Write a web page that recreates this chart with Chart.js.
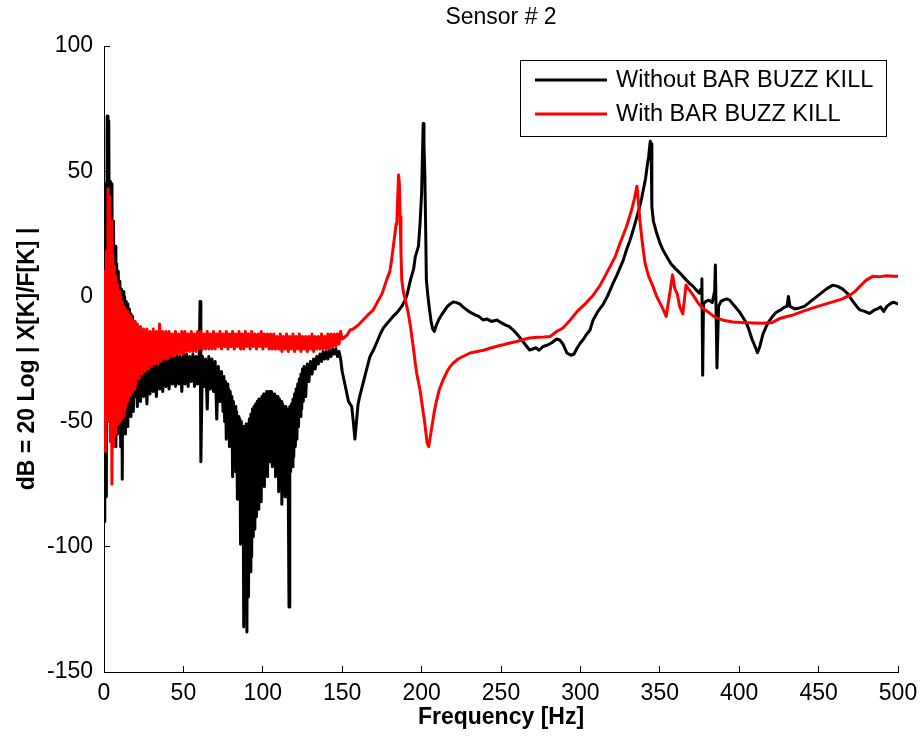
<!DOCTYPE html>
<html>
<head>
<meta charset="utf-8">
<script src="https://cdn.jsdelivr.net/npm/chart.js@4/dist/chart.umd.min.js"></script>
<style>html,body{margin:0;padding:0;background:#fff}canvas{display:block}</style>
</head>
<body>
<canvas id="c" width="920" height="738"></canvas>
<script>
const chartTitle = 'Sensor # 2';
const xAxisTitle = 'Frequency [Hz]';
const yAxisTitle = 'dB = 20 Log | X[K]/F[K] |';
const seriesLabels = ['Without BAR BUZZ KILL', 'With BAR BUZZ KILL'];
const xTicks = [0, 50, 100, 150, 200, 250, 300, 350, 400, 450, 500];
const yTicks = [-150, -100, -50, 0, 50, 100];

const blackHz = [
  0,0.5,1,1.5,2,2.5,3,3.5,4,4.5,5,5.5,6,6.5,7,7.5,8,8.5,9,9.5,
  10,10.5,11,11.5,12,12.5,13,13.5,14,14.5,15,15.5,16,16.5,17,17.5,18,18.5,19,19.5,
  20,21,22,23,24,25,26,27,28,29,30,31,32,33,34,35,36,37,38,39,
  40,41,42,43,44,45,46,47,48,49,50,51,52,53,54,55,56,57,58,59,
  60,60.5,61,
  62,63,64,65,66,67,68,69,70,71,72,73,74,75,
  75.5,76,76.5,77,77.5,78,78.5,79,79.5,80,80.5,81,81.5,82,82.5,83,83.5,84,84.5,85,
  85.5,86,86.5,87,87.5,88,88.5,89,89.5,90,90.5,91,91.5,92,92.5,93,93.5,94,94.5,95,
  95.5,96,96.5,97,97.5,98,98.5,99,99.5,100,100.5,101,101.5,102,102.5,103,103.5,104,104.5,105,
  105.5,106,106.5,107,107.5,108,108.5,109,109.5,110,110.5,111,111.5,112,112.5,113,113.5,114,114.5,115,
  115.5,116,116.5,117,117.5,118,118.5,119,119.5,120,120.5,121,121.5,122,122.5,123,123.5,124,124.5,125,
  125.5,126,
  127,128,129,130,131,132,133,134,135,136,137,138,139,140,141,142,143,144,145,146,
  147,148,149,150,
  152,154,156,157,158,159,160,161,163,165,167.5,170,172,174,176,178,180,182,184.5,187.5,
  190,191,193,195,196,198,199,200,200.5,201,201.5,202,202.5,203,204,205,206,207,208,209,
  211,213,216,218,220,222,224,226,228.5,231,234,236,238.7,241,244,247.5,250,253,255,257.6,
  260,262,265,268,270,272,274,276.5,279,282,285,287,289,291.5,294,296,298,300,302,304,
  306,308,311,314,317,320.6,323,325,327,329,331,333,335.6,337,338.5,339.6,341,342,343,344,
  344.5,345,346,348,350,352,354.5,357,360,362.7,366,369,371,373,375,376,376.5,377,377.5,379,
  381,383,384.5,385,386,387,388.5,390,392,394,396,398,400,402,404,406,408,410,411.5,413,
  415,418,421,423,426,428,430,431,432,435,438,441,444,447,449,452,455,459,462,465,
  468,471,474,476,479,482,485,487,489,491,493,495,497,500
];
const blackDb = [
  -20,-90,45,-80,72,-30,70,-10,46,-40,45,-55,30,-50,20,-60,13,-55,10,-45,
  6,-60,3,-73,2,-50,0,-55,-2,-52,-3,-45,-5,-48,-7,-42,-8,-46,-10,-40,
  -28,-44,-25,-42,-26,-40,-25,-43,-26,-39,-25,-38,-26,-40,-24,-37,-25,-38,-24,-36,
  -25,-37,-24,-35,-24,-36,-23,-35,-24,-38,-23,-35,-23,-36,-24,-34,-23,-36,-24,-35,
  -22,-2,-66,
  -24,-36,-25,-45,-24,-37,-25,-38,-26,-49,-28,-42,-30,-46,
  -32,-50,-34,-57,-35,-52,-37,-60,-38,-58,-40,-72,-42,-62,-44,-70,-46,-81,-48,-78,
  -49,-99,-50,-95,-52,-132,-52,-110,-51,-134,-51,-120,-49,-110,-47,-104,-45,-96,-44,-93,
  -43,-88,-42,-85,-41,-80,-41,-82,-40,-75,-39,-76,-39,-70,-38,-72,-38,-66,-38,-65,
  -38,-68,-39,-64,-39,-72,-40,-70,-40,-78,-41,-74,-42,-83,-43,-78,-44,-80,-44,-77,
  -45,-72,-124,-44,-70,-43,-68,-41,-64,-39,-60,-37,-57,-35,-52,-33,-48,-31,-45,-29,
  -42,-28,
  -40,-27,-34,-26,-31,-25,-29,-24,-27,-23,-26,-22,-25,-22,-25,-21,-24,-21,-23,-21,
  -24,-22,-25,-30,
  -36,-42,-44,-50,-57,-50,-43,-40,-35,-30,-24,-21,-18,-15,-12.5,-11,-9.5,-8,-6.5,-4,
  -1,1,6.6,11,15.8,20,29,41,55,69,60,50,30,6.6,0,-5.4,-10,-13,-14,-12,
  -9,-7,-4.2,-3,-2.2,-2.5,-3,-4.2,-5.4,-6.5,-7.5,-8,-9.4,-9,-10,-9.4,-10.5,-11.5,-12,-13.4,
  -15,-16.5,-19,-21.4,-21,-20.5,-21.5,-20,-19.5,-18.5,-17,-17.4,-19,-22.6,-23.5,-23,-20.5,-18.6,-17,-15,
  -13.5,-9.4,-6,-3.5,0,5.3,8.5,11.5,14.5,18.5,22,26,31.8,35,39,42.5,47,51.8,56,62,
  61,35.7,30,25.3,21.5,18.5,15.7,13,11,9.3,7,5,4,2.5,1.3,3,7,-31.5,-3,-2,
  -1.5,-2.5,2,12.5,-28.6,-4,-2,-1.5,-1,-1.5,-3,-4.5,-6,-8,-10,-13,-17,-20,-22.5,-20,
  -15,-10.7,-8,-6.5,-5.4,-4.5,-4,0,-4,-5,-4.6,-4,-2.5,-1,0,1.5,3,4.5,4,3,
  1.3,-1.5,-4,-5.4,-6,-6.8,-5.5,-5,-4.2,-6,-4,-3,-2.3,-3
];

const redHz = [
  0,0.5,1,1.5,2,2.5,3,3.5,4,4.5,5,5.5,6,6.5,7,7.5,8,8.5,9,9.5,
  10,10.5,11,11.5,12,12.5,13,13.5,14,14.5,15,15.5,16,16.5,17,17.5,18,18.5,19,19.5,
  20,21,22,23,24,25,26,27,28,29,30,31,32,33,34,35,36,37,38,39,
  40,41,42,43,44,45,46,47,48,49,50,51,52,53,54,55,56,57,58,59,
  60,61,62,63,64,65,66,67,68,69,70,71,72,73,74,75,76,77,78,79,
  80,81,82,83,84,85,86,87,88,89,90,91,92,93,94,95,96,97,98,99,
  100,101,102,103,104,105,106,107,108,109,110,111,112,113,114,115,116,117,118,119,
  120,121,122,123,124,125,126,127,128,129,130,131,132,133,134,135,136,137,138,139,
  140,141,142,143,144,145,146,147,148,149,150,
  153,155,157,160,163,166,169.5,172,175,178,180,181,182,183,184,184.5,185,185.5,186,186.5,
  187,187.5,188.5,190,191.6,193,195,196,197,199,200.5,202,203.5,204.5,205.5,206.5,208,209.5,211,213.5,
  216,218,220,223,226,230.5,235,239,243,248,252,255.6,260,264,268,273,277,281,285,289,
  293.5,298,303,308,312,315,318.6,322,325,329,332,334,335.6,336.5,337.5,338.8,340.7,343,345.7,348,
  350,352,354,356,358,359.5,361,362.5,364.5,366.5,368,371,374,377,380,383,386,390,396,402,
  409,415,421,426,430,434,440,446,452,459,465,470,473,476,480,484,488,492,497,500
];
const redDb = [
  -40,10,-62,18,-50,43,-45,40,-58,30,-75,17,-60,12,-55,8,-52,5,-51,2,
  -50,0,-49,-2,-48,-4,-46,-5,-44,-6,-42,-7,-40,-8,-39,-9,-38,-10,-37,-10,
  -35,-11,-33,-12,-31,-13,-30,-13,-29,-14,-28,-13,-27,-14,-27,-11,-26,-14,-25,-14,
  -25,-14,-24,-15,-24,-14,-23,-15,-23,-14,-23,-14,-22,-15,-22,-14,-22,-15,-22,-14,
  -21,-14,-21,-15,-21,-14,-21,-15,-21,-14,-21,-15,-20,-14,-21,-15,-20,-14,-21,-15,
  -20,-14,-21,-15,-20,-14,-21,-15,-21,-14,-20,-15,-21,-14,-20,-15,-21,-15,-20,-14,
  -21,-15,-20,-15,-21,-15,-21,-15,-21,-16,-21,-15,-22,-16,-21,-15,-22,-16,-21,-15,
  -22,-16,-21,-15,-22,-16,-21,-16,-22,-16,-21,-15,-22,-16,-21,-16,-21,-15,-21,-16,
  -21,-15,-21,-15,-20,-15,-20,-15,-19,-14,-17,
  -15.5,-13.4,-13,-11.5,-9.5,-7.5,-5.5,-2.5,1,6.6,10,14,19,24,29,31,40,48.5,45,31.8,
  18,6.6,2,-2,-6.7,-12,-21.4,-26.6,-31,-37.4,-44,-50.6,-58.6,-60,-56,-52,-46,-41.4,-37.5,-33.4,
  -30,-28,-26.6,-25,-24,-22.6,-22,-21.5,-20.7,-19.8,-19.2,-18.6,-18,-17.2,-16.6,-16.3,-16.2,-16,-14,-12.6,
  -9.5,-6,-3,0.5,4,7.5,11.8,16,21.3,27.8,34,39,44,38,30,22.5,13.3,8,4,0,
  -2.5,-5,-8,0,8.6,3,1,-4,-7,4.5,3,0.5,-2.5,-4.7,-6,-7.5,-8.7,-9.5,-10.2,-10.4,
  -10.6,-10.7,-10.4,-8.7,-8,-7.4,-6,-4.7,-3.5,-2.2,-1,0.6,2,4,6.5,8,7.8,8.2,8,8
];

const FONT = '"Liberation Sans", Arial, Helvetica, sans-serif';
Chart.defaults.font.family = FONT;
Chart.defaults.color = '#000';

const boxLegend = {
  id: 'boxLegend',
  afterDraw(chart) {
    const {ctx, chartArea: a} = chart;
    const w = 366, h = 76;
    const x = Math.round(a.right - 12 - w), y = Math.round(a.top + 14);
    ctx.save();
    ctx.fillStyle = '#fff';
    ctx.fillRect(x, y, w, h);
    ctx.strokeStyle = '#000';
    ctx.lineWidth = 1;
    ctx.strokeRect(x + 0.5, y + 0.5, w, h);
    ctx.font = '23.5px ' + FONT;
    ctx.textBaseline = 'middle';
    ctx.textAlign = 'left';
    chart.data.datasets.forEach((ds, i) => {
      const cy = y + 20 + i * 34;
      ctx.strokeStyle = ds.borderColor;
      ctx.lineWidth = 3;
      ctx.beginPath();
      ctx.moveTo(x + 15, cy);
      ctx.lineTo(x + 87, cy);
      ctx.stroke();
      ctx.fillStyle = '#000';
      ctx.fillText(ds.label, x + 96, cy + 1);
    });
    ctx.restore();
  }
};

const toPoints = (hz, db) => hz.map((f, i) => ({x: f, y: db[i]}));

new Chart(document.getElementById('c'), {
  type: 'line',
  data: {
    datasets: [
      {
        label: seriesLabels[0],
        data: toPoints(blackHz, blackDb),
        borderColor: '#000000',
        backgroundColor: '#000000',
        borderWidth: 3,
        pointRadius: 0,
        tension: 0,
        fill: false,
        borderJoinStyle: 'round',
        borderCapStyle: 'round',
        order: 1
      },
      {
        label: seriesLabels[1],
        data: toPoints(redHz, redDb),
        borderColor: '#ff0000',
        backgroundColor: '#ff0000',
        borderWidth: 3,
        pointRadius: 0,
        tension: 0,
        fill: false,
        borderJoinStyle: 'round',
        borderCapStyle: 'round',
        order: 0
      }
    ]
  },
  options: {
    responsive: false,
    devicePixelRatio: 1,
    animation: false,
    events: [],
    layout: {padding: {left: 0, right: 22, top: 0, bottom: 0}},
    plugins: {
      legend: {display: false},
      tooltip: {enabled: false},
      title: {
        display: true,
        text: chartTitle,
        fullSize: false,
        color: '#000',
        font: {size: 23, weight: 'normal', family: FONT},
        padding: {top: 4.2, bottom: 14.2}
      }
    },
    scales: {
      x: {
        type: 'linear',
        min: 0,
        max: 500,
        afterBuildTicks: s => { s.ticks = xTicks.map(v => ({value: v})); },
        afterFit: s => { s.height = 66; s.paddingLeft = 0; s.paddingRight = 0; },
        ticks: {font: {size: 23, family: FONT}, color: '#000', padding: 14.2, maxRotation: 0, autoSkip: false},
        grid: {drawOnChartArea: false, drawTicks: true, tickLength: -6, color: '#000', lineWidth: 1},
        border: {display: true, color: '#000', width: 1},
        title: {display: true, text: xAxisTitle, color: '#000', font: {size: 23, weight: 'bold', family: FONT}, padding: {top: 0, bottom: 6.2}}
      },
      y: {
        type: 'linear',
        min: -150,
        max: 100,
        afterBuildTicks: s => { s.ticks = yTicks.map(v => ({value: v})); },
        afterFit: s => { s.width = 104; s.paddingTop = 0; s.paddingBottom = 0; },
        ticks: {font: {size: 23, family: FONT}, color: '#000', padding: 17, autoSkip: false},
        grid: {drawOnChartArea: false, drawTicks: true, tickLength: -6, color: '#000', lineWidth: 1},
        border: {display: true, color: '#000', width: 1},
        title: {display: true, text: yAxisTitle, color: '#000', font: {size: 23, weight: 'bold', family: FONT}, padding: {top: 14.2, bottom: 0}}
      }
    }
  },
  plugins: [boxLegend]
});
</script>
</body>
</html>
